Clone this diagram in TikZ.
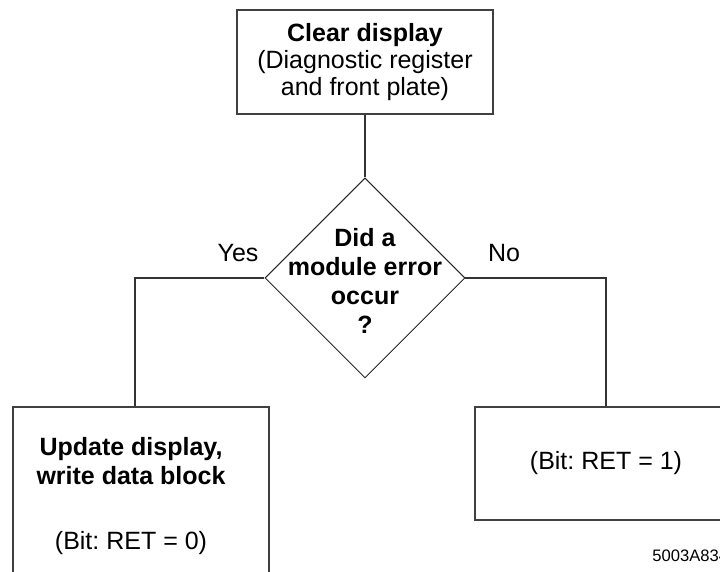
\documentclass[tikz,border=0pt]{standalone}
\usepackage{fontspec}
\setmainfont{Liberation Sans}
\usetikzlibrary{shapes.geometric,positioning}
\frenchspacing

\tikzset{
  box/.style={draw=black!75, line width=0.6pt, rectangle, align=center, inner sep=0pt},
  decision/.style={draw=black!85, line width=0.5pt, diamond, minimum width=100pt, minimum height=100pt, inner sep=0pt},
  link/.style={draw=black!80, line width=0.6pt},
  txt/.style={font=\fontsize{12.5}{14.5}\selectfont, align=center}
}

\begin{document}
\begin{tikzpicture}[x=0.5pt, y=-0.5pt]
  \useasboundingbox (0,0) rectangle (720,572);
  \clip (0,0) rectangle (720,572);

  % start box
  \node[box, font=\fontsize{12.5}{13.4}\selectfont, minimum width=128pt, minimum height=52pt] (clear) at (365,62)
    {\textbf{Clear display}\\(Diagnostic register\\and front plate)};

  % decision
  \node[decision] (check) at (365,278) {};
  \node[txt, font=\bfseries\fontsize{12.5}{14.5}\selectfont] (question) at (365,281)
    {Did a\\module error\\occur\\?};
  \node[txt] (yes) at (238,253) {Yes};
  \node[txt] (no) at (504,253) {No};

  % result boxes (cut by the page edge)
  \node[box, minimum width=128pt, minimum height=94pt] (lbox) at (141,501) {};
  \node[txt] (ltext) at (131,496)
    {\textbf{Update display,}\\\textbf{write data block}\\[18pt](Bit: RET = 0)};
  \node[box, txt, minimum width=131pt, minimum height=56.5pt] (rbox) at (606,463.5)
    {(Bit: RET = 1)};

  \draw[link] (clear) -- (check);
  \draw[link] (check.west) -| ([xshift=-3pt]lbox.north);
  \draw[link] (check.east) -| (rbox.north);

  \node[anchor=base west, font=\fontsize{8.3}{10}\selectfont, inner sep=0pt] (code) at (652,562) {5003A834};
\end{tikzpicture}
\end{document}
